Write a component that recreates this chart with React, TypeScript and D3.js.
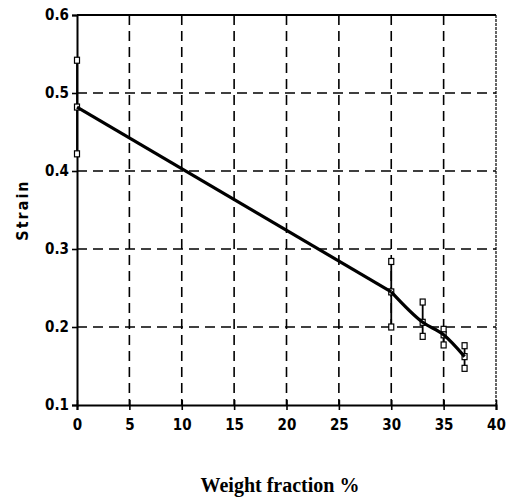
import { useEffect, useRef } from "react";
import * as d3 from "d3";

// Mean strain per weight fraction, plus error-bar extents
const fractions = [0, 30, 33, 35, 37];
const strainMean = [0.482, 0.245, 0.206, 0.19, 0.162];
const strainLow = [0.422, 0.2, 0.188, 0.177, 0.147];
const strainHigh = [0.542, 0.284, 0.232, 0.197, 0.176];

const xTicks = [0, 5, 10, 15, 20, 25, 30, 35, 40];
const yTicks = [0.1, 0.2, 0.3, 0.4, 0.5, 0.6];

const W = 507;
const H = 501;

export default function App() {
  const svgRef = useRef<SVGSVGElement>(null);

  useEffect(() => {
    if (!svgRef.current) return;
    const svg = d3.select(svgRef.current);
    svg.selectAll("*").remove();

    const margin = { top: 15, right: 11, bottom: 96, left: 77 };
    const x = d3.scaleLinear().domain([0, 40]).range([margin.left, W - margin.right]);
    const y = d3.scaleLinear().domain([0.1, 0.6]).range([H - margin.bottom, margin.top]);

    const tickFont = "'DejaVu Sans Condensed', 'DejaVu Sans', sans-serif";

    // grid
    const grid = svg.append("g").attr("stroke", "#000").attr("stroke-width", 1.6).attr("stroke-dasharray", "10,6");
    grid
      .selectAll(".vg")
      .data(xTicks.filter((d) => d > 0 && d < 40))
      .enter()
      .append("line")
      .attr("x1", (d) => x(d))
      .attr("x2", (d) => x(d))
      .attr("y1", y(0.6))
      .attr("y2", y(0.1));
    grid
      .selectAll(".hg")
      .data(yTicks.filter((d) => d > 0.15 && d < 0.55))
      .enter()
      .append("line")
      .attr("x1", x(0))
      .attr("x2", x(40))
      .attr("y1", (d) => y(d))
      .attr("y2", (d) => y(d));

    // frame
    svg.append("line").attr("x1", x(0)).attr("x2", x(40)).attr("y1", y(0.6)).attr("y2", y(0.6))
      .attr("stroke", "#000").attr("stroke-width", 2);
    svg.append("line").attr("x1", x(40)).attr("x2", x(40)).attr("y1", y(0.6)).attr("y2", y(0.1))
      .attr("stroke", "#000").attr("stroke-width", 1.2).attr("stroke-dasharray", "3,1");

    // axes
    const xAxis = svg
      .append("g")
      .attr("transform", `translate(0,${y(0.1)})`)
      .call(d3.axisBottom(x).tickValues(xTicks).tickSize(5).tickFormat((d) => String(d)));
    xAxis.select(".domain").attr("stroke-width", 2);
    xAxis.selectAll(".tick line").attr("stroke-width", 1.6).attr("y1", -5);
    xAxis.selectAll("text").attr("y", 14).attr("dy", "0.71em").style("font-family", tickFont)
      .style("font-stretch", "condensed")
      .style("font-weight", "bold").style("font-size", "15px").attr("fill", "#000");

    const yAxis = svg
      .append("g")
      .attr("transform", `translate(${x(0)},0)`)
      .call(d3.axisLeft(y).tickValues(yTicks).tickSize(5).tickFormat(d3.format(".1f")));
    yAxis.select(".domain").attr("stroke-width", 2);
    yAxis.selectAll(".tick line").attr("stroke-width", 1.6);
    yAxis.selectAll("text").attr("x", -8).style("font-family", tickFont)
      .style("font-stretch", "condensed")
      .style("font-weight", "bold").style("font-size", "15px").attr("fill", "#000");
    svg.selectAll(".domain").attr("stroke", "#000");

    // error bars
    const eb = svg.append("g").attr("stroke", "#000");
    fractions.forEach((f, i) => {
      eb.append("line").attr("x1", x(f)).attr("x2", x(f))
        .attr("y1", y(strainLow[i])).attr("y2", y(strainHigh[i])).attr("stroke-width", 1.8);
      [strainLow[i], strainHigh[i], strainMean[i]].forEach((v) => {
        eb.append("rect").attr("x", x(f) - 2.5).attr("y", y(v) - 3).attr("width", 5).attr("height", 6)
          .attr("fill", "#fff").attr("stroke-width", 1.2);
      });
    });

    // mean curve: straight up to 30 %, smooth bend after
    const pts = fractions.map((f, i) => [f, strainMean[i]] as [number, number]);
    const straight = d3.line<[number, number]>().x((d) => x(d[0])).y((d) => y(d[1]));
    const bent = d3
      .line<[number, number]>()
      .x((d) => x(d[0]))
      .y((d) => y(d[1]))
      .curve(d3.curveMonotoneX);
    const mean = svg.append("g").attr("fill", "none").attr("stroke", "#000").attr("stroke-width", 3.2)
      .attr("stroke-linejoin", "round");
    mean.append("path").attr("d", straight(pts.slice(0, 2)));
    mean.append("path").attr("d", bent(pts.slice(1)));

    // titles
    svg.append("text")
      .attr("transform", `translate(28,${(y(0.6) + y(0.1)) / 2}) rotate(-90)`)
      .attr("text-anchor", "middle")
      .style("font-family", "'DejaVu Sans', sans-serif")
      .style("font-stretch", "condensed")
      .style("font-weight", "bold")
      .style("font-size", "16px")
      .style("letter-spacing", "2px")
      .text("Strain");
    svg.append("text")
      .attr("x", 280)
      .attr("y", 492)
      .attr("text-anchor", "middle")
      .style("font-family", "'Liberation Serif', serif")
      .style("font-weight", "bold")
      .style("font-size", "20px")
      .text("Weight fraction %");
  }, []);

  return (
    <svg
      ref={svgRef}
      width={W}
      height={H}
      style={{ position: "absolute", left: 0, top: 0, background: "#fff" }}
    />
  );
}
